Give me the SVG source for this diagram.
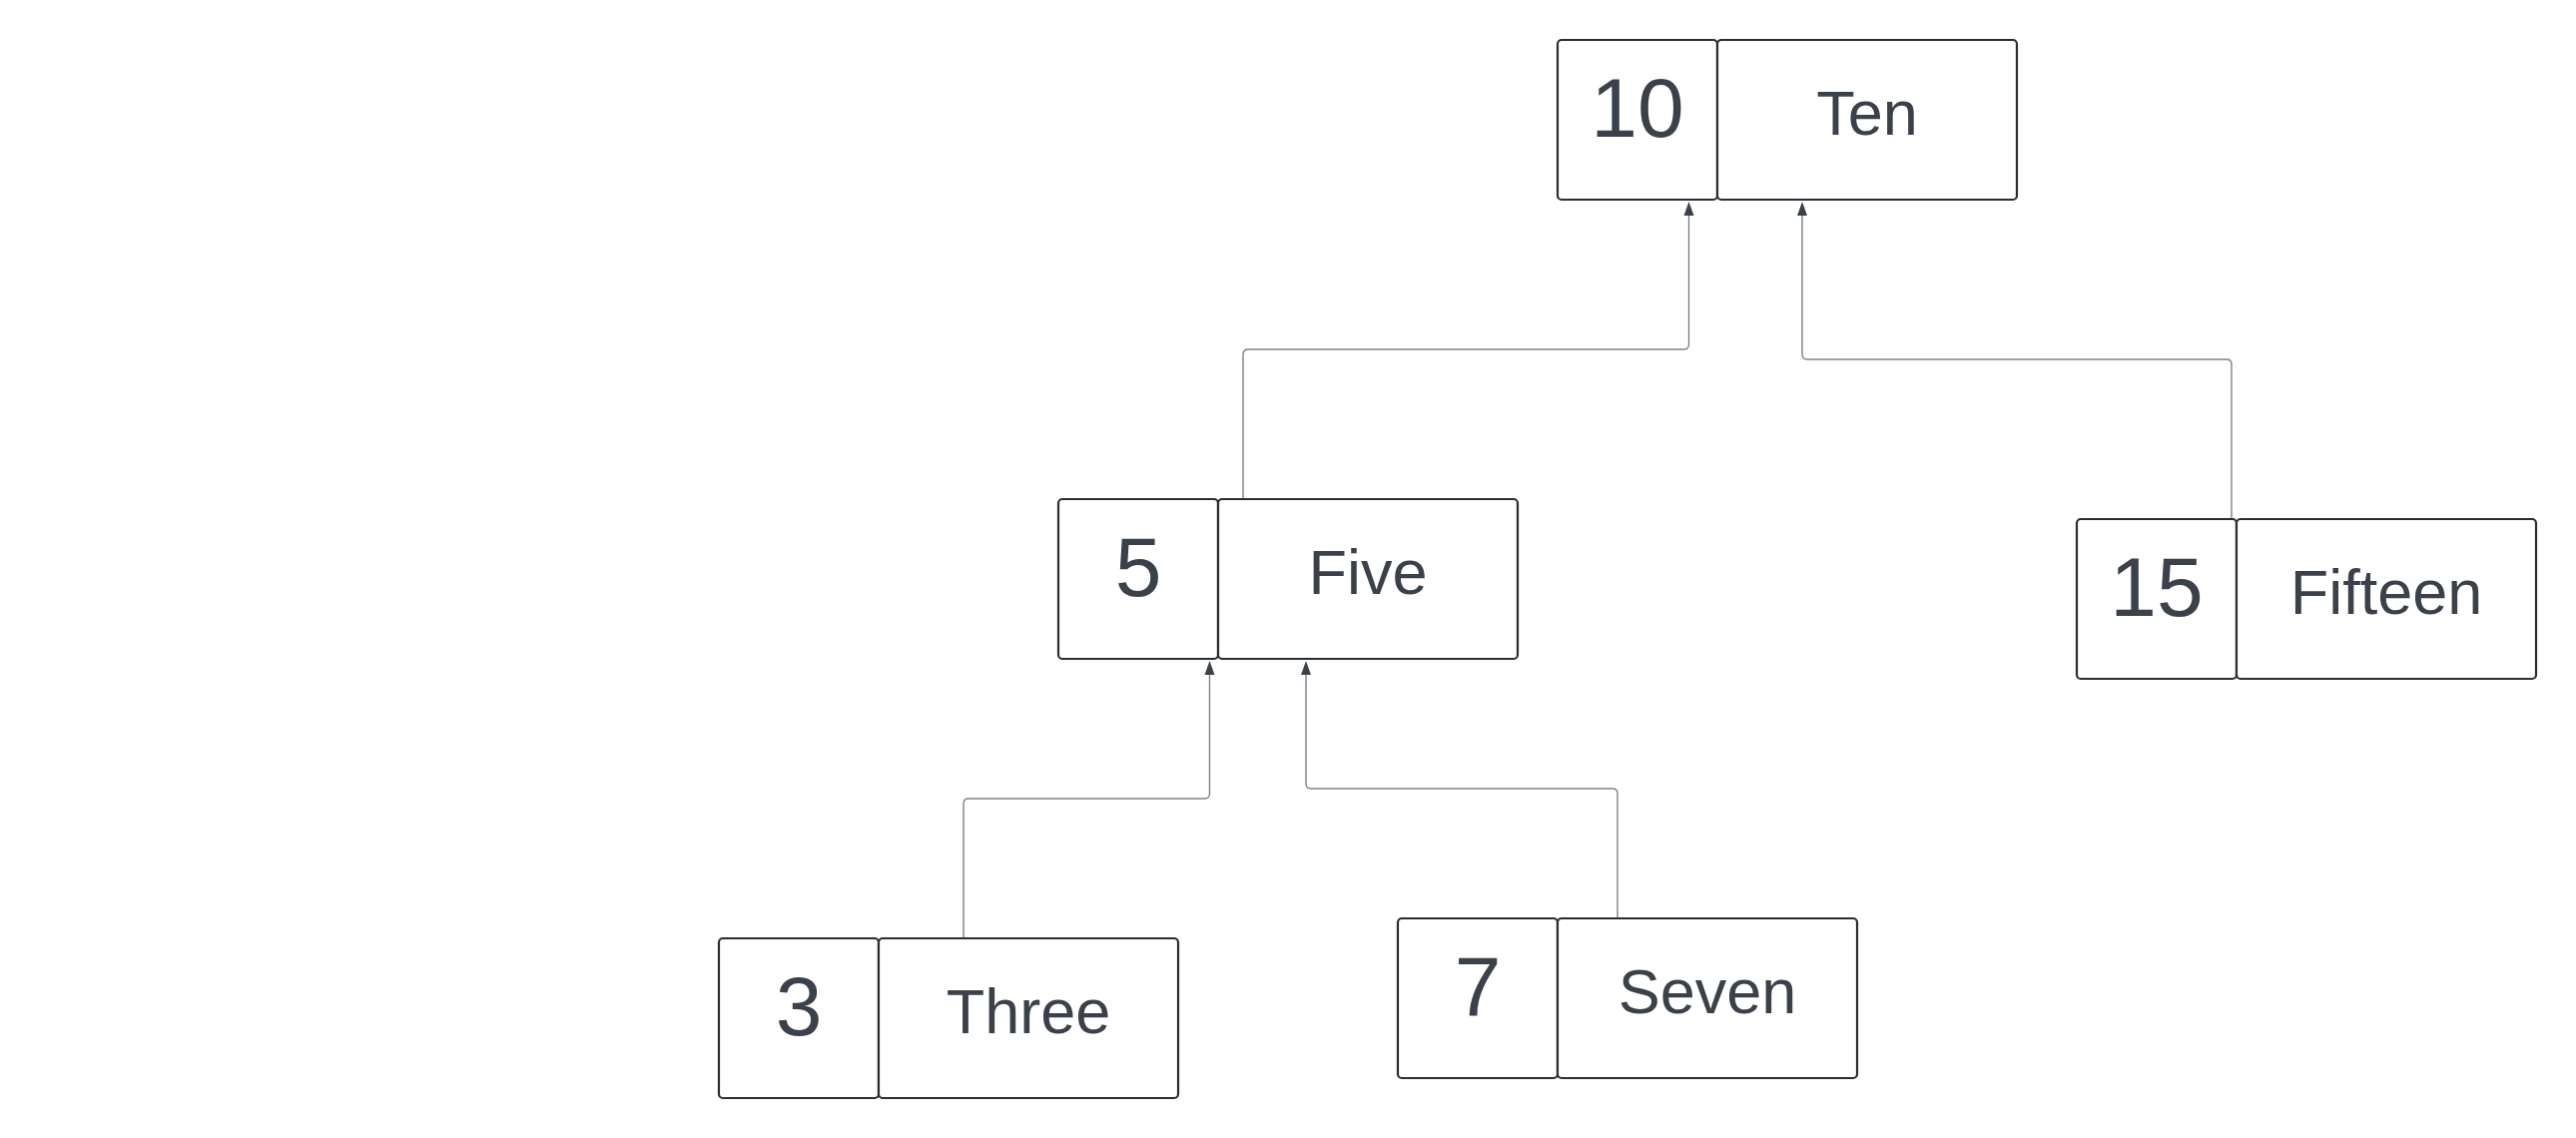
<svg xmlns="http://www.w3.org/2000/svg" width="2580" height="1140" viewBox="0 0 2580 1140">
<defs>
<style>
.box{fill:#ffffff;stroke:#282c33;stroke-width:2.2}
.k{font-family:"Liberation Sans",Arial,sans-serif;font-size:84px;fill:#3a414a;text-anchor:middle}
.v{font-family:"Liberation Sans",Arial,sans-serif;font-size:63px;fill:#3a414a;text-anchor:middle}
.c{fill:none;stroke:#7d8187;stroke-width:1.4}
</style>
<marker id="ah" viewBox="0 0 10 15" refX="5" refY="0" markerWidth="10" markerHeight="15" markerUnits="userSpaceOnUse" orient="auto-start-reverse">
<path d="M5,0 L10,15 L0,15 Z" fill="#3a414a"/>
</marker>
</defs>
<rect width="2580" height="1140" fill="#ffffff"/>
<g id="connectors">
<path class="c" d="M1245,500 L1245,355 Q1245,350 1250,350 L1686.5,350 Q1691.5,350 1691.5,345 L1691.5,215"/>
<path d="M1691.5,202 L1696.5,216 L1686.5,216 Z" fill="#3a414a"/>
<path class="c" d="M2235,520 L2235,365 Q2235,360 2230,360 L1810,360 Q1805,360 1805,355 L1805,215"/>
<path d="M1805,202 L1810,216 L1800,216 Z" fill="#3a414a"/>
<path class="c" d="M965,940 L965,805 Q965,800 970,800 L1206.5,800 Q1211.5,800 1211.5,795 L1211.5,675"/>
<path d="M1211.5,662 L1216.5,676 L1206.5,676 Z" fill="#3a414a"/>
<path class="c" d="M1620,920 L1620,795 Q1620,790 1615,790 L1313,790 Q1308,790 1308,785 L1308,675"/>
<path d="M1308,662 L1313,676 L1303,676 Z" fill="#3a414a"/>
</g>
<g id="node10">
<rect class="box" x="1560" y="40" width="160" height="160" rx="4"/>
<rect class="box" x="1720" y="40" width="300" height="160" rx="4"/>
<text class="k" x="1640" y="137">10</text>
<text class="v" x="1870" y="135">Ten</text>
</g>
<g id="node5">
<rect class="box" x="1060" y="500" width="160" height="160" rx="4"/>
<rect class="box" x="1220" y="500" width="300" height="160" rx="4"/>
<text class="k" x="1140" y="597">5</text>
<text class="v" x="1370" y="595">Five</text>
</g>
<g id="node15">
<rect class="box" x="2080" y="520" width="160" height="160" rx="4"/>
<rect class="box" x="2240" y="520" width="300" height="160" rx="4"/>
<text class="k" x="2160" y="617">15</text>
<text class="v" x="2390" y="615">Fifteen</text>
</g>
<g id="node3">
<rect class="box" x="720" y="940" width="160" height="160" rx="4"/>
<rect class="box" x="880" y="940" width="300" height="160" rx="4"/>
<text class="k" x="800" y="1037">3</text>
<text class="v" x="1030" y="1035">Three</text>
</g>
<g id="node7">
<rect class="box" x="1400" y="920" width="160" height="160" rx="4"/>
<rect class="box" x="1560" y="920" width="300" height="160" rx="4"/>
<text class="k" x="1480" y="1017">7</text>
<text class="v" x="1710" y="1015">Seven</text>
</g>
</svg>
